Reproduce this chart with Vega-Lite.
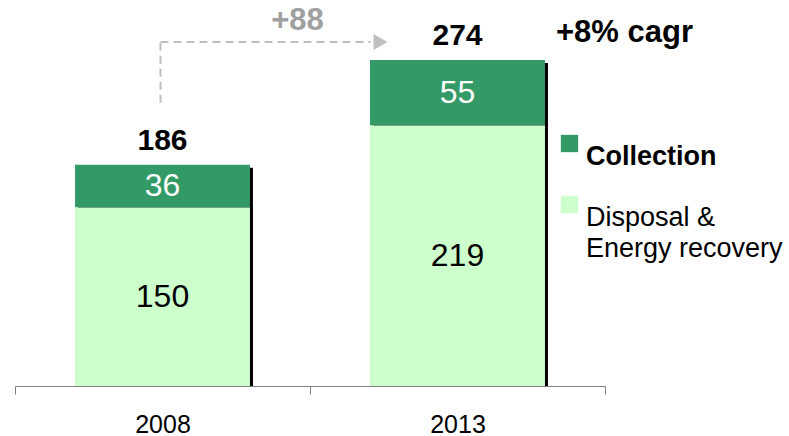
{
  "$schema": "https://vega.github.io/schema/vega-lite/v6.json",
  "width": 590,
  "height": 386,
  "autosize": {"type": "none"},
  "padding": {"left": 15, "top": 0, "right": 184, "bottom": 50},
  "background": "white",
  "config": {"view": {"stroke": null}, "font": "Liberation Sans"},
  "datasets": {
    "bars": [
      {"year": "2008", "category": "Collection", "value": 36},
      {"year": "2008", "category": "Disposal & Energy recovery", "value": 150},
      {"year": "2013", "category": "Collection", "value": 55},
      {"year": "2013", "category": "Disposal & Energy recovery", "value": 219}
    ],
    "note": [
      {"from": "2008", "to": "2013", "fromTotal": 186, "toTotal": 274, "change": "+88", "cagr": "+8% cagr"}
    ]
  },
  "layer": [
    {
      "data": {"name": "bars"},
      "mark": {"type": "bar", "color": "black", "xOffset": 3, "x2Offset": 3, "yOffset": 3, "y2Offset": 3, "width": {"band": 0.593}},
      "encoding": {
        "x": {"field": "year", "type": "nominal", "scale": {"paddingInner": 0, "paddingOuter": 0},
          "axis": {"title": null, "labelAngle": 0, "domainColor": "#808080", "domainWidth": 1, "tickColor": "#808080", "tickSize": 8, "tickBand": "extent", "labelFontSize": 25, "labelFont": "Liberation Sans", "labelColor": "black", "labelPadding": 18, "grid": false}},
        "y": {"aggregate": "sum", "field": "value", "type": "quantitative", "stack": null, "scale": {"domain": [0, 324.4], "nice": false}, "axis": null}
      }
    },
    {
      "data": {"name": "bars"},
      "mark": {"type": "bar", "width": {"band": 0.593}},
      "encoding": {
        "x": {"field": "year", "type": "nominal"},
        "y": {"field": "value", "type": "quantitative", "stack": "zero", "scale": {"domain": [0, 324.4], "nice": false}, "axis": null},
        "color": {"field": "category", "type": "nominal",
          "scale": {"domain": ["Collection", "Disposal & Energy recovery"], "range": ["#339966", "#CCFFCC"]},
          "legend": {"orient": "none", "legendX": 541, "legendY": 130, "title": null, "symbolType": "square", "symbolSize": 300, "symbolStrokeWidth": 0, "labelFont": "Liberation Sans", "labelFontSize": 27, "labelColor": "black", "labelOffset": 3, "rowPadding": 21, "labelLimit": 300, "labelBaseline": "top",
            "labelExpr": "datum.label == 'Disposal & Energy recovery' ? ['Disposal &', 'Energy recovery'] : datum.label",
            "encode": {"labels": {"update": {"fontWeight": {"signal": "datum.value == 'Collection' ? 'bold' : 'normal'"}, "lineHeight": {"value": 31}}}}}},
        "order": {"field": "category", "sort": "descending"}
      }
    },
    {
      "data": {"name": "bars"},
      "mark": {"type": "text", "font": "Liberation Sans", "fontSize": 32, "baseline": "middle"},
      "encoding": {
        "x": {"field": "year", "type": "nominal"},
        "y": {"field": "value", "type": "quantitative", "stack": "zero", "bandPosition": 0.5, "scale": {"domain": [0, 324.4], "nice": false}, "axis": null},
        "detail": {"field": "category"},
        "order": {"field": "category", "sort": "descending"},
        "text": {"field": "value"},
        "color": {"condition": {"test": "datum.category === 'Collection'", "value": "white"}, "value": "black"}
      }
    },
    {
      "data": {"name": "bars"},
      "transform": [{"aggregate": [{"op": "sum", "field": "value", "as": "total"}], "groupby": ["year"]}],
      "mark": {"type": "text", "font": "Liberation Sans", "fontSize": 30, "fontWeight": "bold", "baseline": "alphabetic", "dy": -15, "color": "black"},
      "encoding": {
        "x": {"field": "year", "type": "nominal"},
        "y": {"field": "total", "type": "quantitative", "scale": {"domain": [0, 324.4], "nice": false}, "axis": null},
        "text": {"field": "total"}
      }
    },
    {
      "data": {"name": "note"},
      "mark": {"type": "rule", "color": "#BFBFBF", "strokeWidth": 2, "strokeDash": [8, 5], "xOffset": -2, "yOffset": -62, "y2Offset": -18},
      "encoding": {
        "x": {"field": "from", "type": "nominal"},
        "y": {"field": "fromTotal", "type": "quantitative", "scale": {"domain": [0, 324.4], "nice": false}, "axis": null},
        "y2": {"field": "toTotal"}
      }
    },
    {
      "data": {"name": "note"},
      "mark": {"type": "rule", "color": "#BFBFBF", "strokeWidth": 2, "strokeDash": [8, 5], "xOffset": -2, "x2Offset": -87, "yOffset": -18},
      "encoding": {
        "x": {"field": "from", "type": "nominal"},
        "x2": {"field": "to"},
        "y": {"field": "toTotal", "type": "quantitative", "scale": {"domain": [0, 324.4], "nice": false}, "axis": null}
      }
    },
    {
      "data": {"name": "note"},
      "mark": {"type": "point", "shape": "triangle-right", "filled": true, "color": "#BFBFBF", "opacity": 1, "size": 260, "xOffset": -77, "yOffset": -18},
      "encoding": {
        "x": {"field": "to", "type": "nominal"},
        "y": {"field": "toTotal", "type": "quantitative", "scale": {"domain": [0, 324.4], "nice": false}, "axis": null}
      }
    },
    {
      "data": {"name": "note"},
      "mark": {"type": "text", "font": "Liberation Sans", "fontSize": 31, "fontWeight": "bold", "color": "#A0A0A0", "baseline": "middle", "xOffset": -160, "yOffset": -39},
      "encoding": {
        "x": {"field": "to", "type": "nominal"},
        "y": {"field": "toTotal", "type": "quantitative", "scale": {"domain": [0, 324.4], "nice": false}, "axis": null},
        "text": {"field": "change"}
      }
    },
    {
      "data": {"name": "note"},
      "mark": {"type": "text", "font": "Liberation Sans", "fontSize": 31, "fontWeight": "bold", "color": "black", "baseline": "middle", "xOffset": 167, "yOffset": -27},
      "encoding": {
        "x": {"field": "to", "type": "nominal"},
        "y": {"field": "toTotal", "type": "quantitative", "scale": {"domain": [0, 324.4], "nice": false}, "axis": null},
        "text": {"field": "cagr"}
      }
    }
  ]
}
